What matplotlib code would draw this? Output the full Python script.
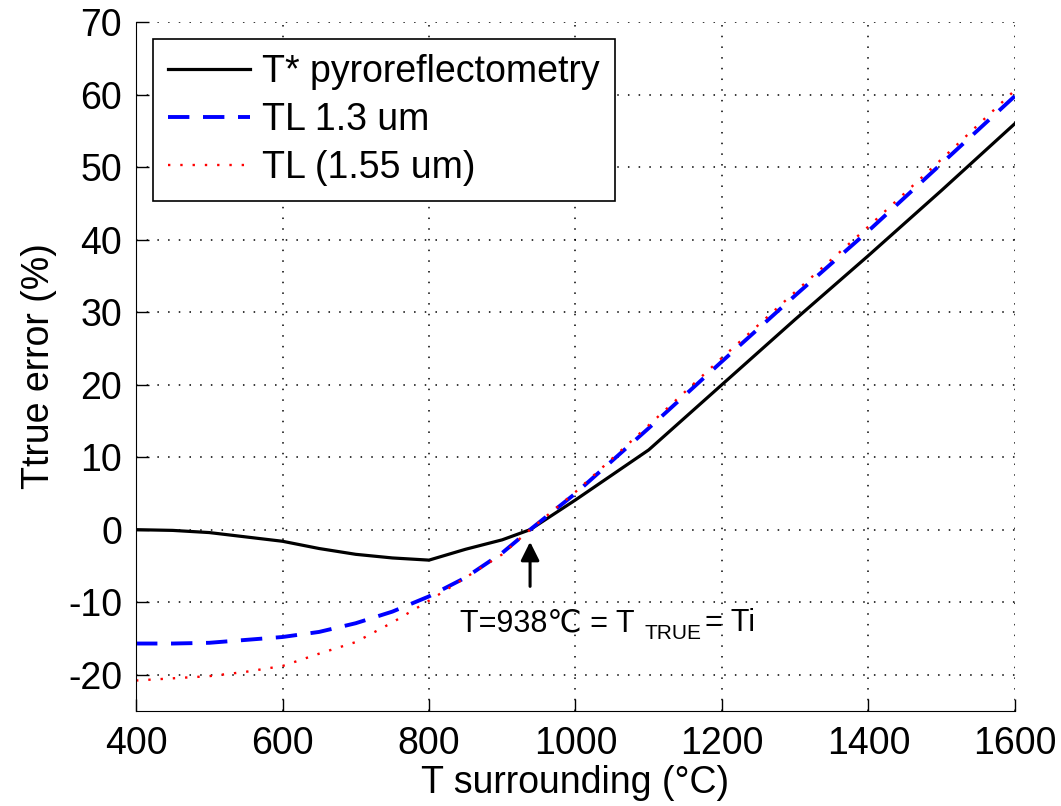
import numpy as np
import matplotlib.pyplot as plt

# data
t_surr = [400, 450, 500, 550, 600, 650, 700, 750, 800, 850, 900, 938,
          1000, 1100, 1200, 1300, 1400, 1500, 1600]
pyro = [0, -0.1, -0.4, -1.0, -1.6, -2.6, -3.4, -3.9, -4.2, -2.7, -1.4, 0,
        4.1, 11, 20, 29, 37.8, 46.8, 56]
tl_13 = [-15.7, -15.7, -15.6, -15.2, -14.8, -14.1, -12.9, -11.3, -9.2, -6.6, -3.2, 0,
         5, 14, 23.2, 32.3, 41.2, 50.5, 59.8]
tl_155 = [-20.8, -20.5, -20.2, -19.6, -18.8, -17.1, -15.5, -12.8, -9.8, -6.6, -3.4, 0,
          5.2, 14.4, 23.7, 32.8, 41.8, 51.1, 60.6]

plt.rcParams['font.family'] = ['Liberation Sans', 'DejaVu Sans']
plt.rcParams['axes.unicode_minus'] = False

fig = plt.figure(figsize=(10.61, 8.06), dpi=100)
ax = fig.add_axes([0.1282, 0.1179, 0.8284, 0.8548])

ax.plot(t_surr, pyro, color='black', lw=2.3, label='T* pyroreflectometry')
ax.plot(t_surr, tl_13, color='blue', lw=2.8, ls=(0, (5.5, 3.5)), label='TL 1.3 um')
ax.plot(t_surr, tl_155, color='red', lw=1.7, ls=(0, (1, 4.2)), label='TL (1.55 um)')

ax.set_xlim(400, 1600)
ax.set_ylim(-25, 70)
ax.set_xticks(np.arange(400, 1601, 200))
ax.set_yticks(np.arange(-20, 71, 10))
ax.tick_params(direction='in', length=9, width=1, labelsize=27)
ax.tick_params(axis='x', pad=11)
ax.tick_params(axis='y', pad=10)
ax.grid(True, color='black', ls=(0, (1, 6)), lw=1.1)
ax.spines['top'].set_visible(False)
ax.spines['right'].set_visible(False)

ax.set_xlabel('T surrounding (°C)', fontsize=27, labelpad=2)
ax.set_ylabel('Ttrue error (%)', fontsize=27, labelpad=8)

# annotation for the crossing point
ax.annotate('', xy=(938, -1.3), xytext=(938, -8.2),
            arrowprops=dict(arrowstyle='-|>', color='black', lw=2.2, mutation_scale=28))
ax.text(842, -14.0, 'T=938℃ = T', fontsize=22, va='baseline')
ax.text(1094, -15.1, 'TRUE', fontsize=15, va='baseline')
ax.text(1177, -14.0, '= Ti', fontsize=22, va='baseline')

leg = ax.legend(loc='upper left', fontsize=27, frameon=True, fancybox=False,
                edgecolor='black', framealpha=1, handlelength=2.2, handletextpad=0.32,
                borderpad=0.4, labelspacing=0.32, borderaxespad=0,
                bbox_to_anchor=(0.0193, 0.975))
leg.get_frame().set_linewidth(1.2)

fig.savefig('out.png', dpi=100)
